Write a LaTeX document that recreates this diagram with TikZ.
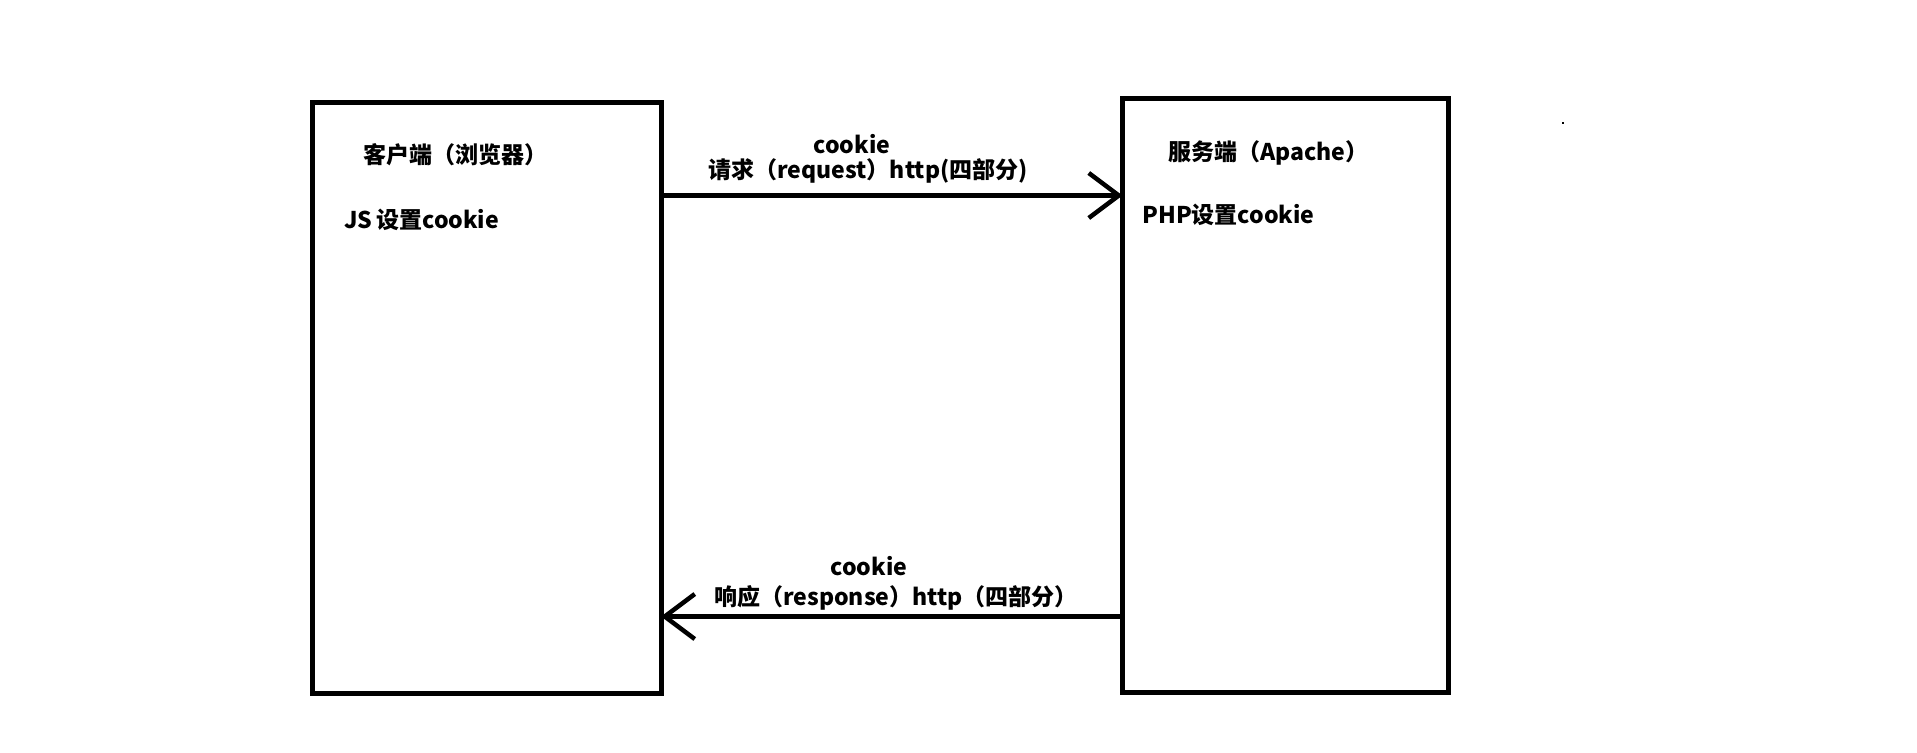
\documentclass[tikz,border=0pt]{standalone}
\usepackage{fontspec}
\setmainfont{Noto Sans CJK SC}
\usepackage{tikz}
\usetikzlibrary{arrows.meta,positioning,calc}

\begin{document}
\begin{tikzpicture}[
    box/.style={draw, line width=0.1cm, outer sep=0pt, inner sep=0pt, anchor=north west},
    lbl/.style={font=\fontsize{13.1}{15}\selectfont\bfseries, inner sep=0pt},
    arrow/.style={-{Straight Barb[length=0.6cm, width=0.9cm]}, line width=0.09cm}
]
\useasboundingbox (0,0) rectangle (38.34,-15.04);

% --- the two ends ---
\node[box, minimum width=6.97cm, minimum height=11.82cm] (client) at (6.25,-2.05) {};
\node[box, minimum width=6.52cm, minimum height=11.88cm] (server) at (22.45,-1.97) {};

\node[lbl, anchor=base west] (clientname) at (7.26,-3.26) {客户端（浏览器）};
\node[lbl, anchor=base west] (clientjs) at (6.88,-4.56) {JS\,设置cookie};
\node[lbl, anchor=base west] (servername) at (23.36,-3.2) {服务端（Apache）};
\node[lbl, anchor=base west] (serverphp) at (22.84,-4.46) {PHP设置cookie};

% --- request / response ---
\coordinate (reqy) at (0,-3.91);
\coordinate (resy) at (0,-12.33);
\draw[arrow] (client.east |- reqy) -- (server.west |- reqy);
\draw[arrow] (server.west |- resy) -- (client.east |- resy);

\node[lbl, anchor=base] (reqcookie) at (17.04,-3.06) {cookie};
\node[lbl, anchor=base] (reqtext) at (17.36,-3.56) {请求（request）http(四部分)};
\node[lbl, anchor=base] (rescookie) at (17.38,-11.5) {cookie};
\node[lbl, anchor=base] (restext) at (17.92,-12.1) {响应（response）http（四部分）};

\fill (31.24,-2.44) rectangle (31.28,-2.48);
\end{tikzpicture}
\end{document}
